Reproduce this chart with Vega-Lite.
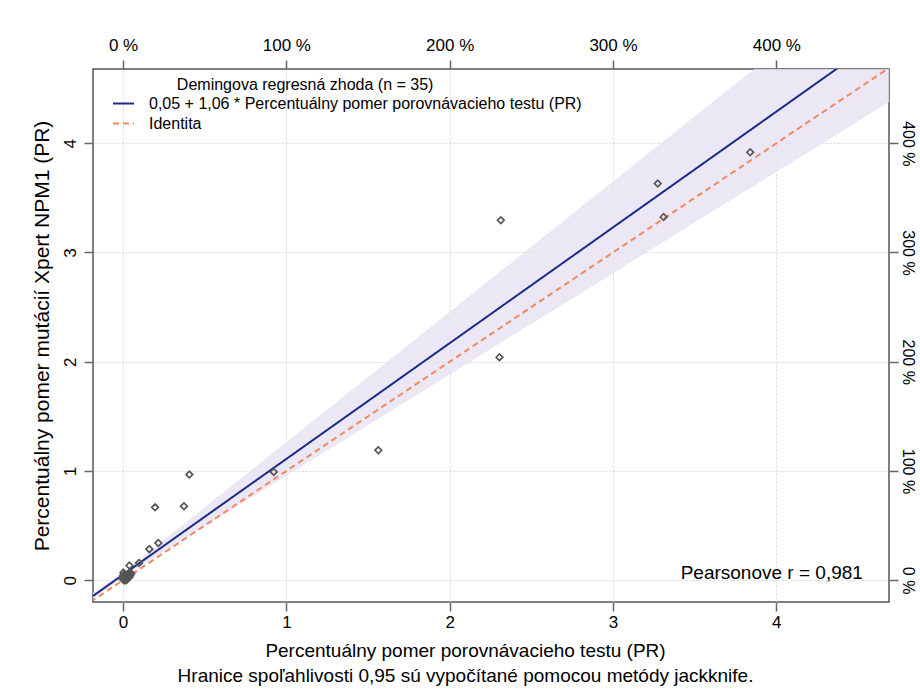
{
  "$schema": "https://vega.github.io/schema/vega-lite/v6.json",
  "width": 796,
  "height": 533,
  "autosize": {"type": "none"},
  "padding": {"left": 93, "top": 69, "right": 31, "bottom": 96},
  "background": "white",
  "config": {
    "font": "Liberation Sans",
    "view": {"stroke": "#555555", "strokeWidth": 1.5},
    "axis": {
      "domain": false,
      "tickColor": "#666666",
      "tickWidth": 1.5,
      "tickSize": 9,
      "labelFontSize": 17,
      "labelColor": "black",
      "titleFontSize": 19,
      "titleFontWeight": "normal",
      "titleColor": "black",
      "gridColor": "#d6d6d6",
      "gridDash": [2, 2],
      "gridWidth": 1
    }
  },
  "datasets": {
    "points": [
      {"cmp": 3.84, "xpert": 3.918},
      {"cmp": 3.274, "xpert": 3.631},
      {"cmp": 3.31, "xpert": 3.325},
      {"cmp": 2.313, "xpert": 3.295},
      {"cmp": 2.305, "xpert": 2.041},
      {"cmp": 1.563, "xpert": 1.19},
      {"cmp": 0.923, "xpert": 0.991},
      {"cmp": 0.406, "xpert": 0.967},
      {"cmp": 0.196, "xpert": 0.667},
      {"cmp": 0.373, "xpert": 0.677},
      {"cmp": 0.216, "xpert": 0.341},
      {"cmp": 0.161, "xpert": 0.284},
      {"cmp": 0.098, "xpert": 0.158},
      {"cmp": 0.039, "xpert": 0.134},
      {"cmp": 0.002, "xpert": 0.07},
      {"cmp": 0.0, "xpert": 0.01},
      {"cmp": 0.0, "xpert": 0.02},
      {"cmp": 0.005, "xpert": 0.0},
      {"cmp": 0.01, "xpert": 0.01},
      {"cmp": 0.01, "xpert": 0.03},
      {"cmp": 0.015, "xpert": 0.02},
      {"cmp": 0.02, "xpert": 0.0},
      {"cmp": 0.02, "xpert": 0.04},
      {"cmp": 0.025, "xpert": 0.02},
      {"cmp": 0.03, "xpert": 0.03},
      {"cmp": 0.03, "xpert": 0.05},
      {"cmp": 0.035, "xpert": 0.04},
      {"cmp": 0.04, "xpert": 0.03},
      {"cmp": 0.045, "xpert": 0.05},
      {"cmp": 0.05, "xpert": 0.06},
      {"cmp": 0.0, "xpert": 0.04},
      {"cmp": 0.005, "xpert": 0.05},
      {"cmp": 0.01, "xpert": 0.0},
      {"cmp": 0.02, "xpert": 0.02},
      {"cmp": 0.04, "xpert": 0.07}
    ],
    "band": [
      {"cmp": -0.184, "lo": -0.175, "hi": -0.115},
      {"cmp": 0.0, "lo": 0.03, "hi": 0.07},
      {"cmp": 0.5, "lo": 0.493, "hi": 0.667},
      {"cmp": 1.0, "lo": 0.957, "hi": 1.263},
      {"cmp": 2.0, "lo": 1.884, "hi": 2.456},
      {"cmp": 3.0, "lo": 2.811, "hi": 3.649},
      {"cmp": 4.0, "lo": 3.738, "hi": 4.842},
      {"cmp": 4.69, "lo": 4.377, "hi": 5.665}
    ],
    "lines": [
      {"series": "0,05 + 1,06 * Percentuálny pomer porovnávacieho testu (PR)", "cmp": -0.184, "val": -0.145},
      {"series": "0,05 + 1,06 * Percentuálny pomer porovnávacieho testu (PR)", "cmp": 4.69, "val": 5.021},
      {"series": "Identita", "cmp": -0.2, "val": -0.2},
      {"series": "Identita", "cmp": 4.69, "val": 4.69}
    ]
  },
  "layer": [
    {
      "data": {"name": "band"},
      "mark": {"type": "area", "color": "#e6e1f1", "opacity": 0.8, "clip": true},
      "encoding": {
        "x": {
          "field": "cmp", "type": "quantitative",
          "scale": {"domain": [-0.184, 4.69], "nice": false, "zero": false},
          "axis": {
            "orient": "bottom",
            "values": [0, 1, 2, 3, 4],
            "labelPadding": 3,
            "titlePadding": 11,
            "titleLineHeight": 25,
            "titleX": 372,
            "titleAlign": "center",
            "title": ["Percentuálny pomer porovnávacieho testu (PR)", "Hranice spoľahlivosti 0,95 sú vypočítané pomocou metódy jackknife."]
          }
        },
        "y": {
          "field": "lo", "type": "quantitative",
          "scale": {"domain": [-0.2, 4.68], "nice": false, "zero": false},
          "axis": {
            "orient": "left",
            "values": [0, 1, 2, 3, 4],
            "labelAngle": -90,
            "labelAlign": "center",
            "labelBaseline": "bottom",
            "labelPadding": 5,
            "titlePadding": 9,
            "titleFontSize": 21,
            "title": "Percentuálny pomer mutácií Xpert NPM1 (PR)"
          }
        },
        "y2": {"field": "hi"}
      }
    },
    {
      "data": {"name": "lines"},
      "mark": {"type": "line", "strokeWidth": 2, "clip": true},
      "encoding": {
        "x": {
          "field": "cmp", "type": "quantitative",
          "axis": {
            "orient": "top",
            "values": [0, 1, 2, 3, 4],
            "grid": false,
            "labelPadding": 6,
            "labelExpr": "format(datum.value * 100, 'd') + ' %'",
            "title": null
          }
        },
        "y": {
          "field": "val", "type": "quantitative",
          "axis": {
            "orient": "right",
            "values": [0, 1, 2, 3, 4],
            "grid": false,
            "labelAngle": 90,
            "labelAlign": "center",
            "labelBaseline": "bottom",
            "labelPadding": 1,
            "labelFontSize": 16,
            "labelExpr": "format(datum.value * 100, 'd') + ' %'",
            "title": null
          }
        },
        "color": {
          "field": "series", "type": "nominal",
          "scale": {
            "domain": ["0,05 + 1,06 * Percentuálny pomer porovnávacieho testu (PR)", "Identita"],
            "range": ["#1c2a8a", "#f08a5d"]
          },
          "legend": {
            "orient": "none",
            "legendX": 19,
            "legendY": 23,
            "title": null,
            "symbolType": "stroke",
            "symbolSize": 440,
            "symbolStrokeWidth": 2,
            "labelFontSize": 16,
            "labelColor": "black",
            "labelLimit": 0,
            "labelOffset": 14,
            "rowPadding": -2,
            "padding": 0
          }
        },
        "strokeDash": {
          "field": "series", "type": "nominal",
          "scale": {
            "domain": ["0,05 + 1,06 * Percentuálny pomer porovnávacieho testu (PR)", "Identita"],
            "range": [[1, 0], [6, 4]]
          },
          "legend": {
            "orient": "none",
            "legendX": 19,
            "legendY": 23,
            "title": null,
            "symbolType": "stroke",
            "symbolSize": 440,
            "symbolStrokeWidth": 2,
            "labelFontSize": 16,
            "labelColor": "black",
            "labelLimit": 0,
            "labelOffset": 14,
            "rowPadding": -2,
            "padding": 0
          }
        }
      }
    },
    {
      "data": {"name": "points"},
      "mark": {"type": "point", "shape": "diamond", "filled": false, "stroke": "#555555", "strokeWidth": 1.7, "size": 44, "opacity": 1},
      "encoding": {
        "x": {"field": "cmp", "type": "quantitative", "axis": null},
        "y": {"field": "xpert", "type": "quantitative", "axis": null}
      }
    },
    {
      "data": {"values": [{}]},
      "mark": {"type": "text", "fontSize": 16, "align": "center", "baseline": "middle", "color": "black"},
      "encoding": {
        "x": {"datum": 1.115, "type": "quantitative", "axis": null},
        "y": {"datum": 4.53, "type": "quantitative", "axis": null},
        "text": {"value": "Demingova regresná zhoda (n = 35)"}
      }
    },
    {
      "data": {"values": [{}]},
      "mark": {"type": "text", "fontSize": 19, "align": "right", "baseline": "middle", "color": "black"},
      "encoding": {
        "x": {"datum": 4.53, "type": "quantitative", "axis": null},
        "y": {"datum": 0.07, "type": "quantitative", "axis": null},
        "text": {"value": "Pearsonove r = 0,981"}
      }
    }
  ]
}
